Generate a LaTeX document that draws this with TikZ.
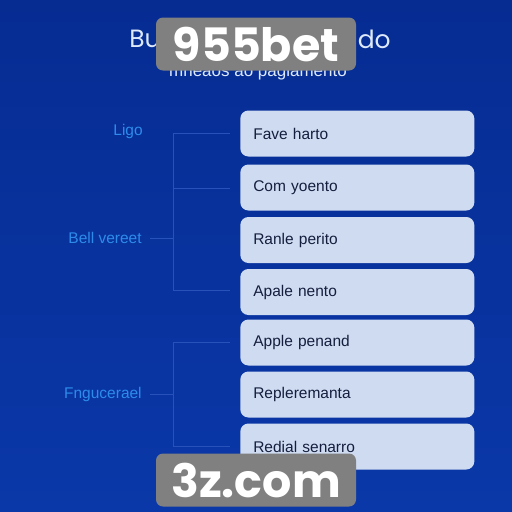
\documentclass[tikz,border=0pt]{standalone}
\usepackage{fontspec}
\setmainfont{Liberation Sans}
\newfontfamily\markfont{Poppins}
\usepackage{tikz}
\definecolor{bg_top}{RGB}{6,44,146}
\definecolor{bg_bottom}{RGB}{10,56,168}
\definecolor{box_fill}{RGB}{206,219,240}
\definecolor{box_text}{RGB}{22,30,62}
\definecolor{label_blue}{RGB}{45,140,235}
\definecolor{line_blue}{RGB}{40,82,185}
\definecolor{title_white}{RGB}{222,234,252}
\definecolor{mark_gray}{RGB}{128,128,128}

\begin{document}
\begin{tikzpicture}[x=1pt,y=-1pt,semithick]
    \tikzstyle{item}=[draw=none, fill=box_fill, rounded corners=8pt, anchor=west,
        minimum width=234pt, minimum height=46pt, text width=208pt, align=left,
        inner xsep=13pt, text=box_text, font=\fontsize{15.5}{18}\selectfont]
    \tikzstyle{group}=[anchor=east, inner sep=0pt, text=label_blue,
        font=\fontsize{15.5}{18}\selectfont]
    \tikzstyle{wire}=[draw=line_blue, line width=0.8pt]
    \tikzstyle{stamp}=[fill=mark_gray, rounded corners=7pt, minimum width=200pt,
        minimum height=53pt, text=white, font=\markfont\bfseries\fontsize{46}{50}\selectfont]

    \shade[top color=bg_top, bottom color=bg_bottom] (0,0) rectangle (512,512);
    \useasboundingbox (0,0) rectangle (512,512);

    % heading
    \node[text=title_white, anchor=west, inner sep=0pt, font=\markfont\fontsize{25}{28}\selectfont] (tl) at (129,39) {Bu};
    \node[text=title_white, anchor=east, inner sep=0pt, font=\markfont\fontsize{25}{28}\selectfont] (tr) at (391,39) {do};
    \node[text=title_white, inner sep=0pt, font=\fontsize{17}{20}\selectfont] (sub) at (258,72) {mneaos ao pagiamento};

    % options
    \node[item] (o1) at (240,133.5) {Fave harto};
    \node[item] (o2) at (240,187.5) {Com yoento};
    \node[item] (o3) at (240,240)   {Ranle perito};
    \node[item] (o4) at (240,292)   {Apale nento};
    \node[item] (o5) at (240,342.5) {Apple penand};
    \node[item] (o6) at (240,394.5) {Repleremanta};
    \node[item] (o7) at (240,446.5) {Redial senarro};

    % groups
    \node[group] (g1) at (143,131) {Ligo};
    \node[group] (g2) at (142,238) {Bell vereet};
    \node[group] (g3) at (142,394) {Fngucerael};

    \coordinate (s1) at (173,133);
    \coordinate (s2) at (173,188);
    \coordinate (s3) at (173,238);
    \coordinate (s4) at (173,290);
    \coordinate (s5) at (173,342);
    \coordinate (s6) at (173,394);
    \coordinate (s7) at (173,446);

    \path[wire]
     (s1) edge (s4)
     (s5) edge (s7)
     (g2.east) edge[shorten <=8pt] (s3)
     (g3.east) edge[shorten <=8pt] (s6)
     (s1) edge[shorten >=10pt] (s1 -| o1.west)
     (s2) edge[shorten >=10pt] (s2 -| o2.west)
     (s4) edge[shorten >=10pt] (s4 -| o4.west)
     (s5) edge[shorten >=10pt] (s5 -| o5.west)
     (s7) edge[shorten >=10pt] (s7 -| o7.west)
     ;

    % overlays
    \node[stamp] (m1) at (256,44)  {955bet};
    \node[stamp] (m2) at (256,480) {3z.com};
\end{tikzpicture}
\end{document}
